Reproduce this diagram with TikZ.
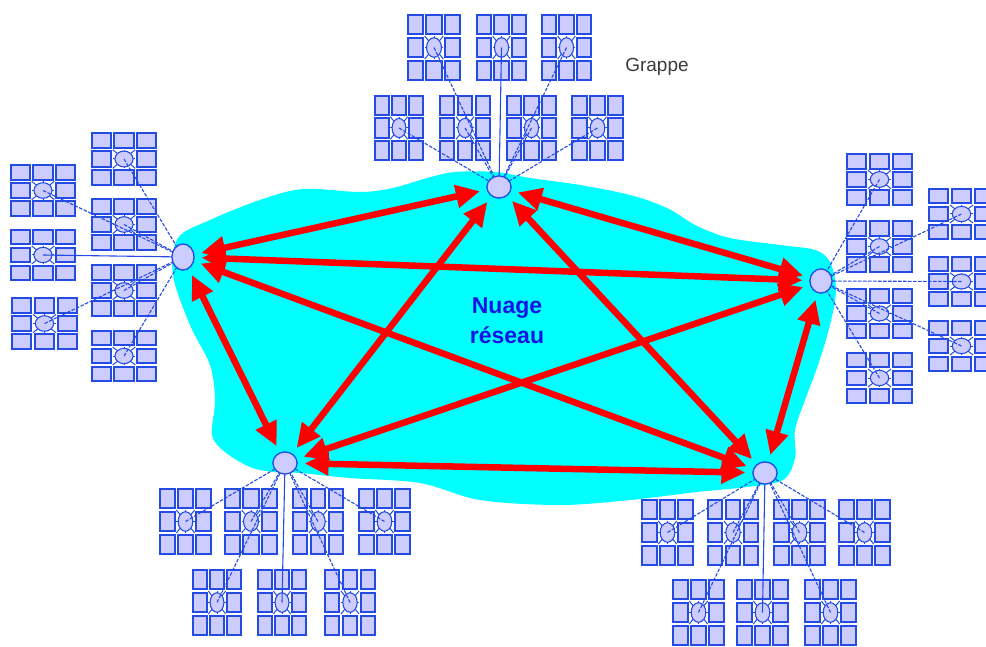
\documentclass[tikz,border=0pt]{standalone}
\usepackage{fontspec}
\setmainfont{Liberation Sans}
\usetikzlibrary{arrows.meta,shapes.geometric}
\definecolor{sqfill}{RGB}{204,204,255}
\definecolor{sqline}{RGB}{36,76,228}
\definecolor{cloudc}{RGB}{0,255,255}
\definecolor{arrred}{RGB}{255,0,0}
\definecolor{txtblue}{RGB}{20,20,230}
\definecolor{grtxt}{RGB}{60,60,60}
\tikzset{
  sq/.style={draw=sqline, fill=sqfill, line width=1.9pt},
  spoke/.style={draw=sqline, line width=1pt},
  cellhub/.style={ellipse, draw=sqline, fill=sqfill, line width=1.1pt, inner sep=0pt},
  hub/.style={ellipse, draw=sqline, fill=sqfill, line width=1.2pt, inner sep=0pt},
  link/.style={draw=sqline, line width=1.1pt, dash pattern=on 3.5pt off 1.5pt},
  solidlink/.style={draw=sqline, line width=1.1pt},
  redarrow/.style={draw=arrred, line width=6.5pt,
    {Triangle[length=24pt,width=22pt]}-{Triangle[length=24pt,width=22pt]},
    shorten <=7pt, shorten >=7pt},
  nuage/.style={text=txtblue, font=\fontsize{23}{27}\selectfont\bfseries, anchor=base, inner sep=0pt},
  grlabel/.style={text=grtxt, font=\fontsize{19}{22}\selectfont, anchor=base, inner sep=0pt}
}
% cluster: name, x0, y0, x1, y1
\newcommand\grp[5]{%
  \pgfmathsetmacro\gx{#2}\pgfmathsetmacro\gy{#3}%
  \pgfmathsetmacro\cw{(#4-#2)/3}\pgfmathsetmacro\ch{(#5-#3)/3}%
  \pgfmathsetmacro\cx{(#2+#4)/2}\pgfmathsetmacro\cy{(#3+#5)/2}%
  \foreach \i in {0,1,2}{\foreach \j in {0,1,2}{%
    \ifnum\i\j=11 \else
      \draw[sq] ({\gx+\i*\cw+1.7},{\gy+\j*\ch+1.7}) rectangle ({\gx+(\i+1)*\cw-1.7},{\gy+(\j+1)*\ch-1.7});
    \fi}}%
  \foreach \a/\b in {-1/-1,0/-1,1/-1,-1/0,1/0,-1/1,0/1,1/1}
    \draw[spoke] (\cx,\cy) -- ++({\a*\cw/2},{\b*\ch/2});
  \node[cellhub, minimum width=0.8*\cw, minimum height=0.85*\ch] (#1) at (\cx,\cy) {};
}
\begin{document}
\begin{tikzpicture}[x=1pt,y=-1pt]
\useasboundingbox (0,0) rectangle (986,647);
\fill[white] (0,0) rectangle (986,647);
% cloud
\fill[cloudc] plot[smooth cycle, tension=0.55] coordinates {
 (178,238) (210,220) (260,200) (303,189) (360,192) (393,188) (427,178)
 (455,172) (495,172) (530,178) (580,185) (630,195) (667,208) (697,226)
 (730,238) (780,245) (815,250) (830,262) (836,290) (830,325) (818,365)
 (805,400) (795,430) (795,458) (783,480) (747,487) (697,492) (630,500)
 (560,505) (480,500) (420,483) (350,478) (300,473) (273,472) (250,467)
 (225,452) (212,435) (215,400) (210,365) (190,325) (173,275)};
% top clusters
\grp{t1}{406}{13}{462}{82}
\grp{t2}{475}{13}{528}{82}
\grp{t3}{540}{13}{593}{82}
\grp{t4}{373}{94}{425}{162}
\grp{t5}{438}{94}{492}{162}
\grp{t6}{505}{94}{558}{162}
\grp{t7}{570}{94}{625}{162}
% left clusters
\grp{l1}{9}{163}{77}{218}
\grp{l2}{9}{228}{77}{282}
\grp{l3}{10}{296}{79}{351}
\grp{l4}{90}{131}{158}{187}
\grp{l5}{90}{197}{158}{252}
\grp{l6}{90}{263}{158}{318}
\grp{l7}{90}{329}{158}{383}
% right clusters
\grp{r1}{845}{152}{914}{207}
\grp{r2}{845}{219}{914}{274}
\grp{r3}{845}{287}{914}{340}
\grp{r4}{845}{351}{914}{405}
\grp{r5}{927}{187}{996}{241}
\grp{r6}{927}{255}{996}{308}
\grp{r7}{927}{319}{996}{373}
% bottom-left clusters
\grp{a1}{158}{487}{213}{556}
\grp{a2}{223}{487}{279}{556}
\grp{a3}{291}{487}{345}{556}
\grp{a4}{357}{487}{412}{556}
\grp{a5}{191}{568}{243}{637}
\grp{a6}{256}{568}{308}{637}
\grp{a7}{323}{568}{377}{637}
% bottom-right clusters
\grp{b1}{640}{498}{695}{567}
\grp{b2}{706}{498}{760}{567}
\grp{b3}{772}{498}{827}{567}
\grp{b4}{837}{498}{892}{567}
\grp{b5}{671}{578}{726}{647}
\grp{b6}{735}{578}{790}{647}
\grp{b7}{803}{578}{858}{647}
% hubs
\node[hub, minimum width=24pt, minimum height=22pt] (T) at (499,187) {};
\node[hub, minimum width=22pt, minimum height=26pt] (L) at (183,257) {};
\node[hub, minimum width=22pt, minimum height=24pt] (R) at (821,281) {};
\node[hub, minimum width=24pt, minimum height=22pt] (BL) at (285,463) {};
\node[hub, minimum width=24pt, minimum height=22pt] (BR) at (765,473) {};
% links
\foreach \k in {1,3,4,5,6,7} \draw[link] (t\k.center) -- (T);
\draw[solidlink] (t2.center) -- (T);
\foreach \k in {1,3,4,5,6,7} \draw[link] (l\k.center) -- (L);
\draw[solidlink] (l2.center) -- (L);
\foreach \k in {1,...,7} \draw[link] (r\k.center) -- (R);
\foreach \k in {1,2,3,4,5,7} \draw[link] (a\k.center) -- (BL);
\draw[solidlink] (a6.center) -- (BL);
\foreach \k in {1,2,3,4,5,7} \draw[link] (b\k.center) -- (BR);
\draw[solidlink] (b6.center) -- (BR);
% redraw hubs on top
\node[hub, minimum width=24pt, minimum height=22pt] at (T) {};
\node[hub, minimum width=22pt, minimum height=26pt] at (L) {};
\node[hub, minimum width=22pt, minimum height=24pt] at (R) {};
\node[hub, minimum width=24pt, minimum height=22pt] at (BL) {};
\node[hub, minimum width=24pt, minimum height=22pt] at (BR) {};
% red arrows
\draw[redarrow] (L) -- (T);
\draw[redarrow] (L) -- (R);
\draw[redarrow] (L) -- (BL);
\draw[redarrow] (L) -- (BR);
\draw[redarrow] (T) -- (R);
\draw[redarrow] (T) -- (BL);
\draw[redarrow] (T) -- (BR);
\draw[redarrow] (R) -- (BL);
\draw[redarrow] (R) -- (BR);
\draw[redarrow] (BL) -- (BR);
% texts
\node[nuage] (nu1) at (507,313) {Nuage};
\node[nuage] (nu2) at (507,343) {réseau};
\node[grlabel] (gr) at (657,72) {Grappe};
\end{tikzpicture}
\end{document}
